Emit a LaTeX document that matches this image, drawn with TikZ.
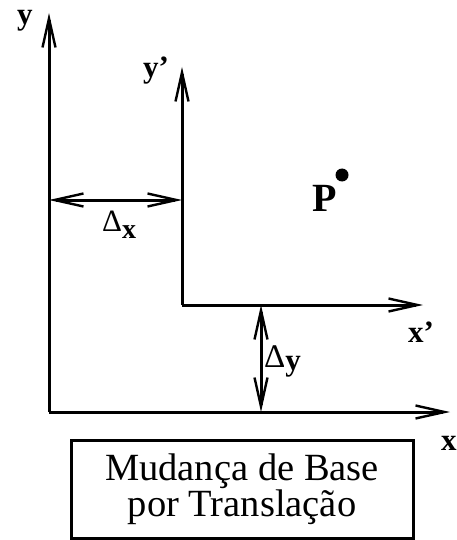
\documentclass[tikz,border=0pt]{standalone}
\usepackage{fontspec}
\setmainfont{Liberation Serif}
\usetikzlibrary{arrows.meta}
\tikzset{
  barb/.tip={Straight Barb[length=29pt,width=13pt,line width=2.4pt]},
  axis/.style={line width=3pt, -barb},
  dbl/.style={line width=3pt, barb-barb},
  lbl/.style={inner sep=0pt, font=\fontsize{31}{31}\selectfont\bfseries},
  boxed/.style={draw, line width=3pt, minimum width=342pt, minimum height=98pt, inner sep=0pt, align=center, font=\fontsize{38.5}{36}\selectfont}
}
\begin{document}
\begin{tikzpicture}[x=1pt,y=-1pt]
\useasboundingbox (0,0) rectangle (456,540);
% coordinates
\coordinate (O) at (49,412);
\coordinate (Ytip) at (49,13);
\coordinate (Xtip) at (450,412);
\coordinate (Op) at (182,305);
\coordinate (Yptip) at (182,67);
\coordinate (Xptip) at (423,305);
\coordinate (DxL) at (49,200);
\coordinate (DxR) at (182,200);
\coordinate (DyT) at (261,305);
\coordinate (DyB) at (261,412);
% axes
\draw[axis] (O) -- (Ytip);
\draw[axis] (O) -- (Xtip);
\draw[axis] (Op) -- (Yptip);
\draw[axis] (Op) -- (Xptip);
\draw[dbl] (DxL) -- (DxR);
\draw[dbl] (DyT) -- (DyB);
% labels
\node[lbl, anchor=base west] (ly) at (17,25) {y};
\node[lbl, anchor=base west] (lyp) at (143,78) {y’};
\node[lbl, anchor=base west] (lxp) at (408,342) {x’};
\node[lbl, anchor=base west] (lx) at (441,450) {x};
\node[lbl, anchor=base west, font=\fontsize{40}{40}\selectfont\bfseries] (lP) at (312,211) {P};
\fill (342,175) circle (6.5pt) node[coordinate] (Pdot) {};
\node[inner sep=0pt, anchor=base west, font=\fontsize{31}{31}\selectfont] (ldx) at (102,231) {Δ\raisebox{-7pt}{\fontsize{28}{28}\selectfont\bfseries x}};
\node[inner sep=0pt, anchor=base west, font=\fontsize{33}{33}\selectfont] (ldy) at (264,367) {Δ\raisebox{-3pt}{\fontsize{31}{31}\selectfont\bfseries y}};
% box
\node[boxed] (title) at (242,489) {Mudança de Base\\por Translação};
\end{tikzpicture}
\end{document}
